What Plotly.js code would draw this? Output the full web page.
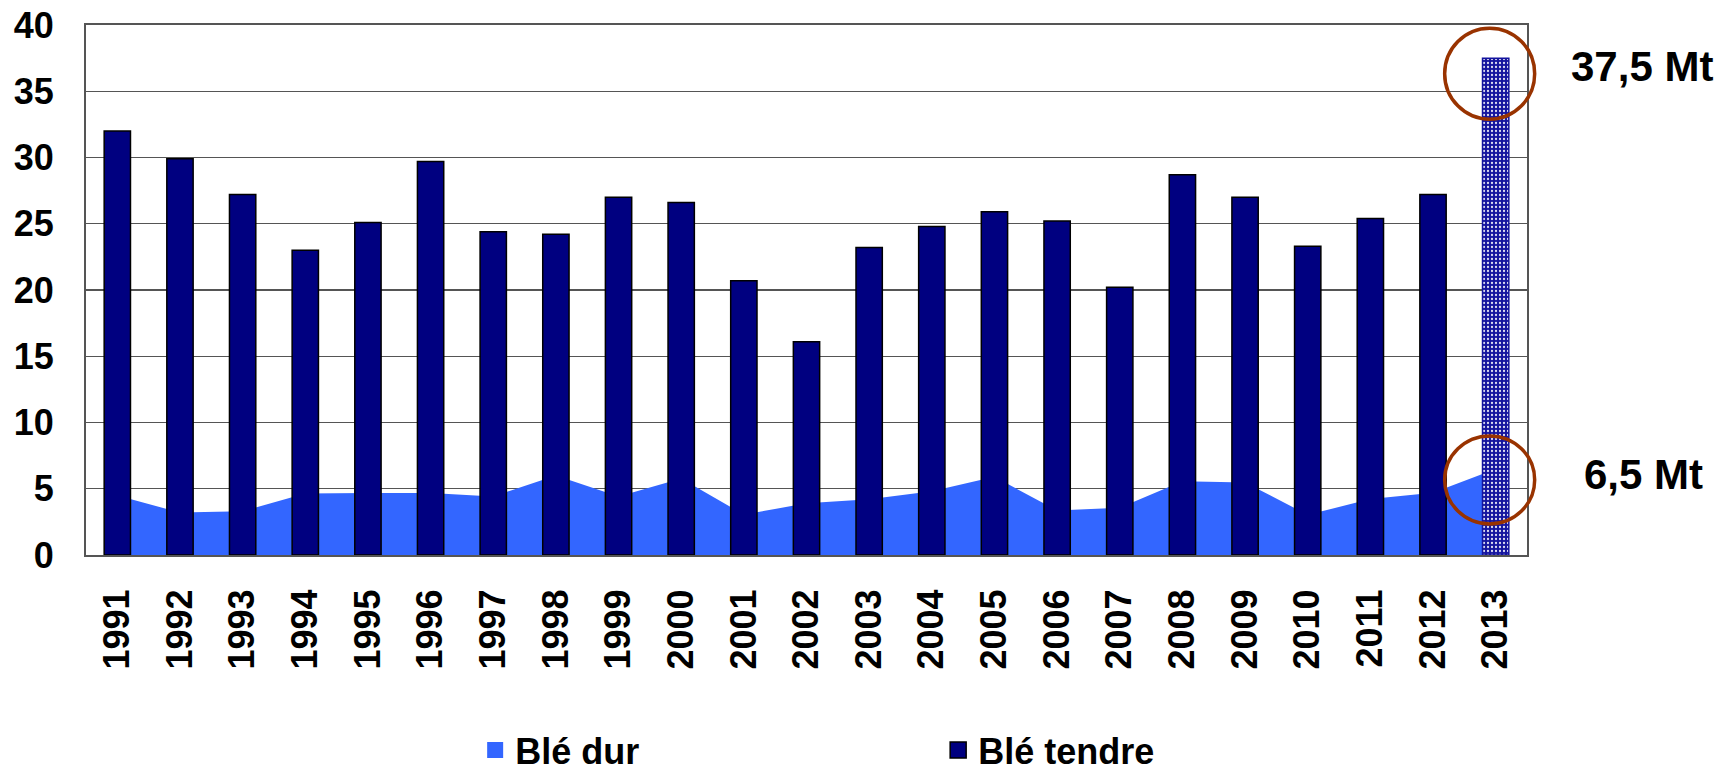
<!DOCTYPE html>
<html>
<head>
<meta charset="utf-8">
<script src="https://cdn.plot.ly/plotly-3.0.1.min.js"></script>
<style>html,body{margin:0;padding:0;background:#fff;}#chart{width:1731px;height:775px;}</style>
</head>
<body>
<div id="chart"></div>
<script>
// ---- data ----
const years = ['1991','1992','1993','1994','1995','1996','1997','1998','1999','2000','2001','2002','2003','2004','2005','2006','2007','2008','2009','2010','2011','2012','2013'];
const bleTendre = [32.0, 29.9, 27.2, 23.0, 25.1, 29.7, 24.4, 24.2, 27.0, 26.6, 20.7, 16.1, 23.2, 24.8, 25.9, 25.2, 20.2, 28.7, 27.0, 23.3, 25.4, 27.2, 37.5];
const bleDur = [4.5, 3.2, 3.3, 4.65, 4.67, 4.67, 4.42, 6.0, 4.42, 5.77, 3.05, 3.9, 4.2, 4.82, 5.9, 3.36, 3.57, 5.57, 5.48, 3.03, 4.22, 4.7, 6.5];
const seriesNames = ['Blé dur', 'Blé tendre'];
const highlightYear = '2013';
const unit = 'Mt';
const yMax = 40;

// ---- styling ----
const FONT = 'Liberation Sans, Arial, sans-serif';
const navy = '#000080';
const durColor = '#3366ff';
const circleColor = '#993300';
const hiColor = '#14149e';
const hi = years.indexOf(highlightYear);
const n = years.length;
const fmt = v => v.toFixed(1).replace('.', ',') + ' ' + unit;

const barColors = years.map((y, i) => i === hi ? hiColor : navy);
const barLineColors = years.map((y, i) => i === hi ? hiColor : '#000000');
const barPatterns = years.map((y, i) => i === hi ? '.' : '');

const traces = [
  { // area (behind bars)
    type: 'scatter', mode: 'lines', x: years, y: bleDur,
    fill: 'tozeroy', fillcolor: durColor, line: {width: 0, color: durColor},
    name: seriesNames[0], showlegend: false, xaxis: 'x', yaxis: 'y'
  },
  { // bars (overlay axes so they are drawn above the area)
    type: 'bar', x: years, y: bleTendre, width: 0.42,
    marker: {
      color: barColors,
      line: {color: barLineColors, width: 1.5},
      pattern: {shape: barPatterns, fgcolor: '#ffffff', fgopacity: 0.85, size: 4, solidity: 0.25, fillmode: 'overlay'}
    },
    name: seriesNames[1], showlegend: false, xaxis: 'x2', yaxis: 'y2'
  },
  { // legend entries
    type: 'scatter', mode: 'markers', x: [null], y: [null], name: seriesNames[0],
    marker: {symbol: 'square', size: 24, color: durColor, line: {width: 0}}, hoverinfo: 'skip'
  },
  {
    type: 'scatter', mode: 'markers', x: [null], y: [null], name: seriesNames[1],
    marker: {symbol: 'square', size: 24, color: navy, line: {width: 1.5, color: '#000'}}, hoverinfo: 'skip'
  }
];

const tickFont = {family: FONT, size: 36, color: '#000', weight: 'bold'};
const xAnchorPaper = (hi + 0.5) / n;

const layout = {
  width: 1731, height: 775,
  margin: {l: 86, r: 204, t: 25, b: 220, pad: 0},
  paper_bgcolor: '#fff', plot_bgcolor: '#fff',
  font: {family: FONT, color: '#000'},
  showlegend: true,
  xaxis: {
    type: 'category', range: [-0.5, n - 0.5], tickangle: -90,
    tickfont: tickFont, ticks: '', showgrid: false, zeroline: false,
    showline: true, linecolor: '#555', linewidth: 2, mirror: true,
    ticklabelstandoff: 18
  },
  yaxis: {
    range: [0, yMax], dtick: 5, tickfont: tickFont, ticks: '',
    showgrid: true, gridcolor: '#555', gridwidth: 1.3, zeroline: false,
    showline: true, linecolor: '#555', linewidth: 2, mirror: true,
    ticklabelstandoff: 23
  },
  xaxis2: {type: 'category', overlaying: 'x', range: [-0.5, n - 0.5], visible: false},
  yaxis2: {overlaying: 'y', range: [0, yMax], visible: false},
  legend: {
    orientation: 'h', xref: 'container', yref: 'container',
    x: 0.2745, y: 0.032, xanchor: 'left', yanchor: 'middle',
    font: {family: FONT, size: 36, color: '#000', weight: 'bold'},
    entrywidth: 418, bgcolor: 'rgba(0,0,0,0)'
  },
  shapes: [
    {type: 'circle', xref: 'paper', yref: 'paper', xsizemode: 'pixel', ysizemode: 'pixel',
     xanchor: xAnchorPaper, yanchor: bleTendre[hi] / yMax, x0: -51, x1: 39, y0: -61, y1: 30,
     line: {color: circleColor, width: 3.5}},
    {type: 'circle', xref: 'paper', yref: 'paper', xsizemode: 'pixel', ysizemode: 'pixel',
     xanchor: xAnchorPaper, yanchor: bleDur[hi] / yMax, x0: -51, x1: 39, y0: -55, y1: 33,
     line: {color: circleColor, width: 3.5}}
  ],
  annotations: [
    {xref: 'paper', yref: 'paper', x: xAnchorPaper, y: bleTendre[hi] / yMax, text: fmt(bleTendre[hi]),
     showarrow: false, xanchor: 'center', yanchor: 'middle', xshift: 146, yshift: -8,
     font: {family: FONT, size: 42, color: '#000', weight: 'bold'}},
    {xref: 'paper', yref: 'paper', x: xAnchorPaper, y: bleDur[hi] / yMax, text: fmt(bleDur[hi]),
     showarrow: false, xanchor: 'center', yanchor: 'middle', xshift: 148, yshift: -6,
     font: {family: FONT, size: 42, color: '#000', weight: 'bold'}}
  ]
};

Plotly.newPlot('chart', traces, layout, {displayModeBar: false, staticPlot: true});
</script>
</body>
</html>
